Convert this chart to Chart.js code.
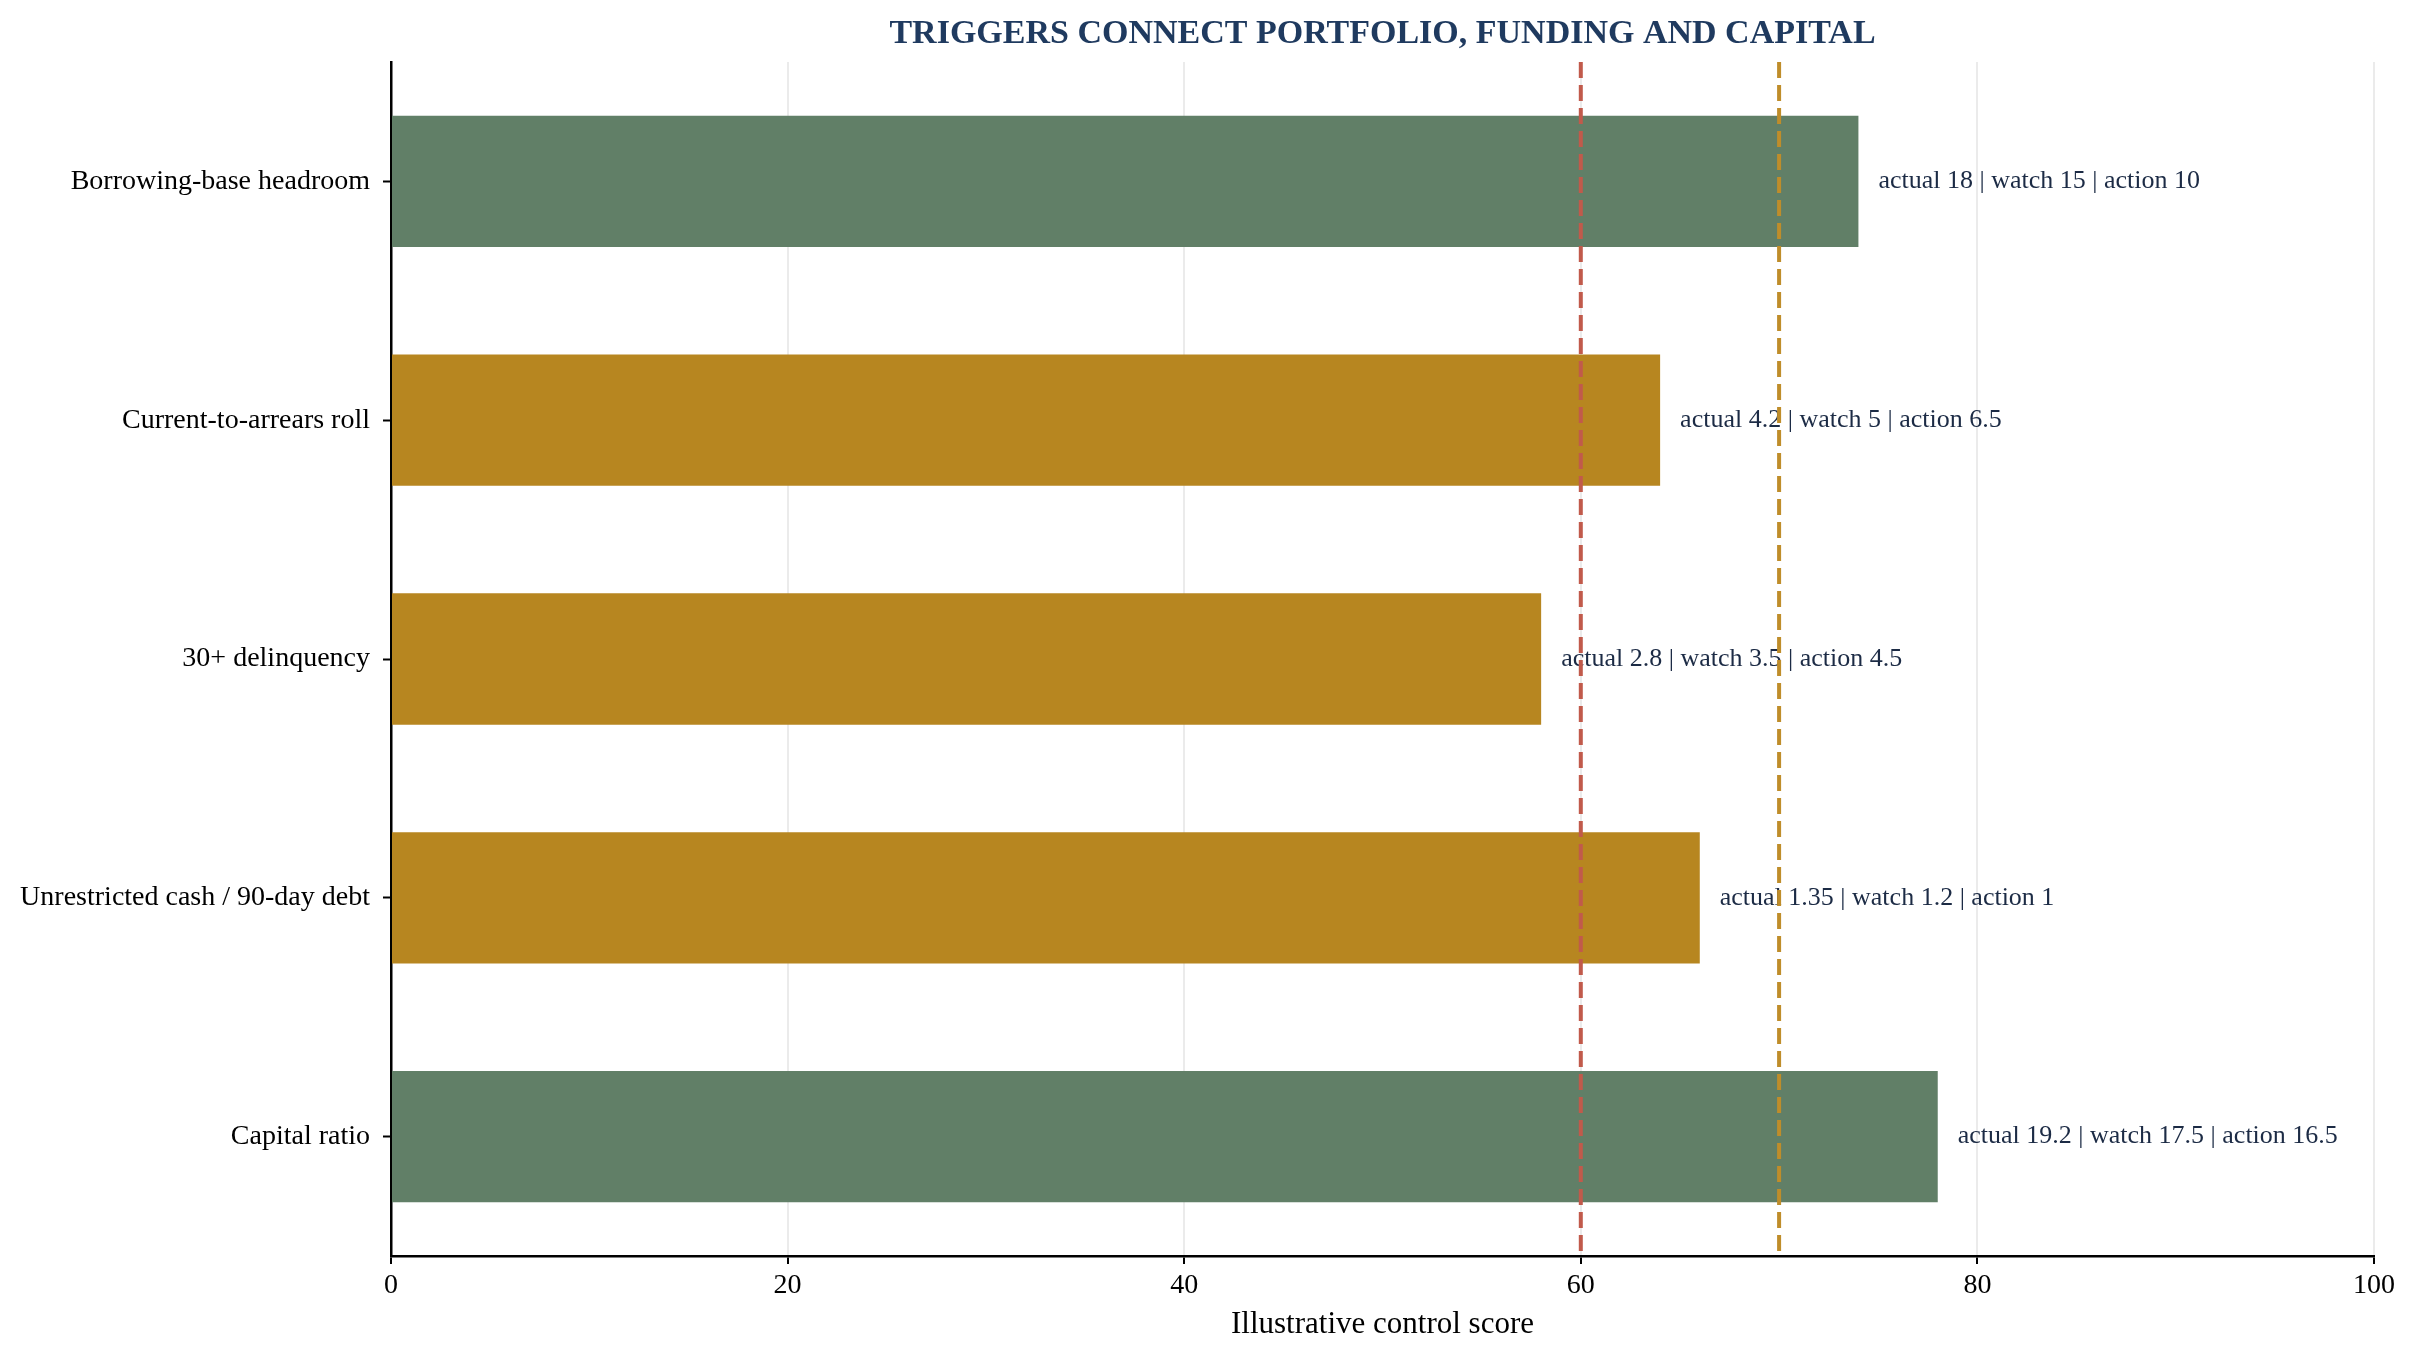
<!DOCTYPE html>
<html>
<head>
<meta charset="utf-8">
<script src="https://cdn.jsdelivr.net/npm/chart.js@4.4.1/dist/chart.umd.min.js"></script>
<style>
  html, body { margin: 0; padding: 0; background: #fff; }
  #wrap { width: 2417px; height: 1363px; }
</style>
</head>
<body>
<div id="wrap"><canvas id="grafico" width="2417" height="1363"></canvas></div>
<script>
    const categorias = [
      "Borrowing-base headroom",
      "Current-to-arrears roll",
      "30+ delinquency",
      "Unrestricted cash / 90-day debt",
      "Capital ratio"
    ];
    const scores  = [74, 64, 58, 66, 78];
    const faixa   = ["verde", "ambar", "ambar", "ambar", "verde"];
    const actual  = ["18", "4.2", "2.8", "1.35", "19.2"];
    const watch   = ["15", "5", "3.5", "1.2", "17.5"];
    const action  = ["10", "6.5", "4.5", "1", "16.5"];
    const gatilhos = [60, 70];
    const xTicks  = [0, 20, 40, 60, 80, 100];

    const titulo = "TRIGGERS CONNECT PORTFOLIO, FUNDING AND CAPITAL";
    const eixoX  = "Illustrative control score";

    const cores = { verde: "#617f67", ambar: "#b78620" };
    const corGatilho = ["#c15a4b", "#bf8d2a"];
    const SERIF = "'Liberation Serif', 'Times New Roman', serif";

    // titulo, linhas de gatilho e rotulos
    const extras = {
      id: 'extras',
      afterDatasetsDraw(chart) {
        const {ctx, chartArea: a, scales: {x}} = chart;
        const meta = chart.getDatasetMeta(0);

        ctx.save();
        ctx.font = "26px " + SERIF;
        ctx.fillStyle = "#1c2b45";
        ctx.textAlign = "left";
        ctx.textBaseline = "middle";
        meta.data.forEach((bar, i) => {
          const txt = `actual ${actual[i]} | watch ${watch[i]} | action ${action[i]}`;
          ctx.fillText(txt, bar.x + 20, bar.y);
        });

        gatilhos.forEach((v, i) => {
          const px = x.getPixelForValue(v);
          ctx.beginPath();
          ctx.setLineDash([16, 7]);
          ctx.lineWidth = 4;
          ctx.strokeStyle = corGatilho[i];
          ctx.moveTo(px, a.top);
          ctx.lineTo(px, a.bottom);
          ctx.stroke();
        });
        ctx.setLineDash([]);

        ctx.font = "bold 34px " + SERIF;
        ctx.fillStyle = "#1f3a5f";
        ctx.textAlign = "center";
        ctx.fillText(titulo, (a.left + a.right) / 2, 34);
        ctx.restore();
      }
    };

    new Chart(document.getElementById('grafico'), {
      type: 'bar',
      data: {
        labels: categorias,
        datasets: [{
          data: scores,
          backgroundColor: faixa.map(f => cores[f]),
          barPercentage: 0.55,
          categoryPercentage: 1
        }]
      },
      options: {
        indexAxis: 'y',
        responsive: false,
        animation: false,
        devicePixelRatio: 1,
        layout: { padding: { top: 62, right: 43, bottom: 0, left: 0 } },
        plugins: { legend: { display: false }, tooltip: { enabled: false } },
        scales: {
          x: {
            min: 0, max: 100,
            afterBuildTicks: s => { s.ticks = xTicks.map(v => ({value: v})); },
            afterFit: s => { s.height = 107; },
            ticks: { color: '#000', font: { family: SERIF, size: 28 }, padding: 5, maxRotation: 0 },
            grid: { color: '#ebebeb', lineWidth: 2, tickColor: '#000', tickWidth: 2, tickLength: 8 },
            border: { color: '#000', width: 2.5 },
            title: { display: true, text: eixoX, color: '#000', font: { family: SERIF, size: 31 }, padding: { top: 0, bottom: 20 } }
          },
          y: {
            afterFit: s => { s.width = 391; },
            ticks: { color: '#000', font: { family: SERIF, size: 28 }, padding: 13 },
            grid: { offset: false, drawOnChartArea: false, color: '#000', tickColor: '#000', tickWidth: 2, tickLength: 8 },
            border: { color: '#000', width: 2.5 }
          }
        }
      },
      plugins: [extras]
    });
</script>
</body>
</html>
